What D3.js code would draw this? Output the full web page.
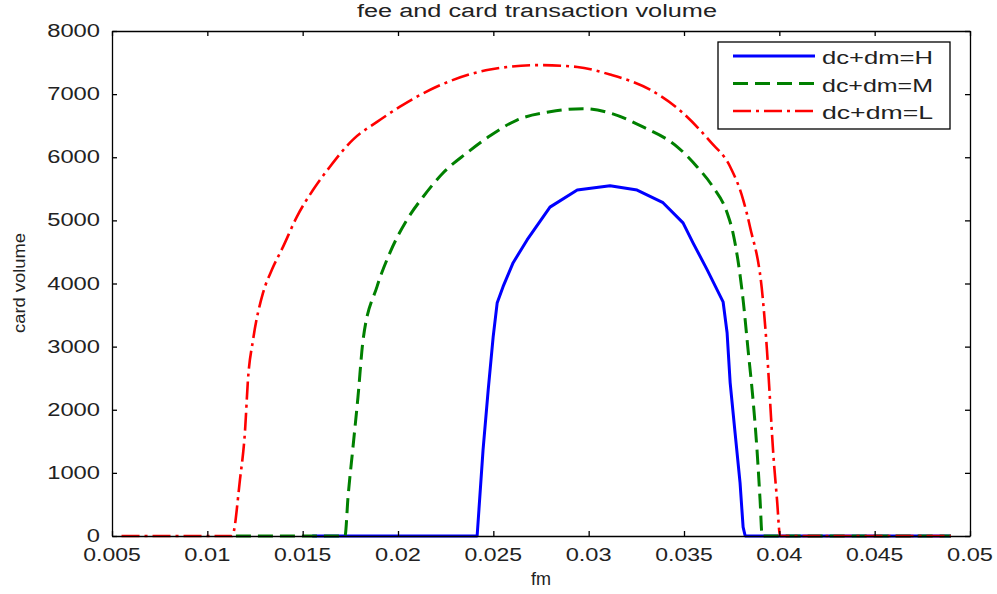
<!DOCTYPE html>
<html>
<head>
<meta charset="utf-8">
<script src="https://cdn.jsdelivr.net/npm/d3@7"></script>
<style>
  body { margin: 0; background: #fff; }
  text { font-family: "Liberation Sans", Arial, sans-serif; fill: #222; }
</style>
</head>
<body>
<script>
// axis ticks
const xTicks = [0.005, 0.01, 0.015, 0.02, 0.025, 0.03, 0.035, 0.04, 0.045, 0.05];
const yTicks = [0, 1000, 2000, 3000, 4000, 5000, 6000, 7000, 8000];

// dc+dm=H (blue, solid)
const fmH = [0.0155, 0.02415, 0.02446, 0.02473, 0.02499, 0.0252, 0.02551, 0.02604, 0.02677, 0.02797,
             0.0294, 0.03112, 0.03254, 0.0339, 0.03495, 0.03548, 0.03621, 0.03705, 0.03726, 0.03742,
             0.03768, 0.03794, 0.0381, 0.03821, 0.049];
const volH = [0, 0, 1360, 2310, 3150, 3690, 3950, 4330, 4690, 5210,
              5480, 5550, 5480, 5280, 4960, 4640, 4220, 3710, 3220, 2430,
              1630, 840, 140, 0, 0];

// dc+dm=M (green, dashed)
const fmM = [0.0115, 0.01722, 0.01738, 0.01764, 0.0179, 0.01817, 0.0189, 0.01958, 0.02047, 0.02131,
             0.02236, 0.02362, 0.02483, 0.02624, 0.02797, 0.0297, 0.03112, 0.03285, 0.03463, 0.03568,
             0.03652, 0.03726, 0.03757, 0.0381, 0.03836, 0.03862, 0.03883, 0.03899, 0.0391, 0.049];
const volM = [0, 0, 620, 1410, 2200, 3110, 3950, 4490, 5010, 5370,
              5750, 6070, 6340, 6590, 6720, 6770, 6700, 6480, 6170, 5850,
              5530, 5120, 4800, 3740, 2950, 2160, 1360, 570, 0, 0];

// dc+dm=L (red, dash-dot)
const fmL = [0.0055, 0.0113, 0.01171, 0.01198, 0.01213, 0.0124, 0.01292, 0.01339, 0.01397, 0.0147,
             0.01554, 0.01643, 0.01764, 0.0189, 0.02026, 0.02205, 0.02483, 0.02745, 0.0294, 0.03112,
             0.03322, 0.03495, 0.03637, 0.03742, 0.0381, 0.03846, 0.03914, 0.03935, 0.03951, 0.03967,
             0.03988, 0.04004, 0.049];
const volL = [0, 0, 890, 1680, 2470, 3110, 3850, 4220, 4580, 5060,
              5480, 5850, 6280, 6560, 6830, 7120, 7390, 7460, 7430, 7310,
              7070, 6700, 6250, 5850, 5330, 4900, 3740, 2950, 2160, 1360,
              570, 0, 0];

const seriesNames = ['dc+dm=H', 'dc+dm=M', 'dc+dm=L'];
const seriesColors = ['#0000ff', '#008000', '#ff0000'];
const seriesDash = ['none', '15,7', '18,5,3,5'];
const seriesX = [fmH, fmM, fmL];
const seriesY = [volH, volM, volL];

const W = 997, H = 594;
const plotL = 112, plotR = 970, plotT = 31, plotB = 536;

const svg = d3.select('body')
              .append('svg')
              .attr('width', W)
              .attr('height', H);

const xscale = d3.scaleLinear()
                .domain([0.005, 0.05])
                .range([plotL, plotR]);

const yscale = d3.scaleLinear()
                .domain([0, 8000])
                .range([plotB, plotT]);

// curves: blue keeps its kinks, the other two are smooth
const lineFor = i => d3.line()
               .curve(i === 0 ? d3.curveLinear : d3.curveMonotoneX)
               .x(d => xscale(d[0]))
               .y(d => yscale(d[1]));

seriesNames.forEach((name, i) => {
  const pts = seriesX[i].map((x, j) => [x, seriesY[i][j]]);
  svg.append('path')
    .datum(pts)
    .attr('d', lineFor(i))
    .attr('fill', 'none')
    .attr('stroke', seriesColors[i])
    .attr('stroke-width', i === 2 ? 2.6 : 3)
    .attr('stroke-linejoin', 'round')
    .attr('stroke-dasharray', seriesDash[i]);
});

// frame with inward ticks on all four sides
const tickLen = 5;
svg.append('g')
  .attr('transform', `translate(0,${plotB})`)
  .call(d3.axisBottom(xscale).tickValues(xTicks).tickSizeInner(-tickLen).tickSizeOuter(0).tickFormat(''));
svg.append('g')
  .attr('transform', `translate(0,${plotT})`)
  .call(d3.axisTop(xscale).tickValues(xTicks).tickSizeInner(-tickLen).tickSizeOuter(0).tickFormat(''));
svg.append('g')
  .attr('transform', `translate(${plotL},0)`)
  .call(d3.axisLeft(yscale).tickValues(yTicks).tickSizeInner(-tickLen).tickSizeOuter(0).tickFormat(''));
svg.append('g')
  .attr('transform', `translate(${plotR},0)`)
  .call(d3.axisRight(yscale).tickValues(yTicks).tickSizeInner(-tickLen).tickSizeOuter(0).tickFormat(''));
svg.selectAll('.domain, .tick line')
  .attr('stroke', '#000')
  .attr('stroke-width', 1.3);

// tick labels (stretched like the source image)
svg.selectAll('.xlab')
  .data(xTicks)
  .enter().append('text')
  .attr('x', d => xscale(d))
  .attr('y', 561)
  .attr('text-anchor', 'middle')
  .attr('font-size', 18)
  .attr('textLength', d => String(d).length * 11.5)
  .attr('lengthAdjust', 'spacingAndGlyphs')
  .text(d => String(d));

svg.selectAll('.ylab')
  .data(yTicks)
  .enter().append('text')
  .attr('x', 100)
  .attr('y', d => yscale(d) + 6)
  .attr('text-anchor', 'end')
  .attr('font-size', 18)
  .attr('textLength', d => String(d).length * 13.2)
  .attr('lengthAdjust', 'spacingAndGlyphs')
  .text(d => String(d));

// titles
svg.append('text')
  .attr('x', 537)
  .attr('y', 17)
  .attr('text-anchor', 'middle')
  .attr('font-size', 18)
  .attr('textLength', 360)
  .attr('lengthAdjust', 'spacingAndGlyphs')
  .text('fee and card transaction volume');

svg.append('text')
  .attr('x', 541)
  .attr('y', 585)
  .attr('text-anchor', 'middle')
  .attr('font-size', 18)
  .text('fm');

svg.append('text')
  .attr('transform', 'translate(25,283) rotate(-90)')
  .attr('text-anchor', 'middle')
  .attr('font-size', 16)
  .attr('textLength', 100)
  .attr('lengthAdjust', 'spacingAndGlyphs')
  .text('card volume');

// legend
const legend = svg.append('g');
legend.append('rect')
  .attr('x', 718)
  .attr('y', 42)
  .attr('width', 232)
  .attr('height', 87)
  .attr('fill', '#fff')
  .attr('stroke', '#000')
  .attr('stroke-width', 1.3);

seriesNames.forEach((name, i) => {
  const ly = 56 + i * 27.5;
  legend.append('line')
    .attr('x1', 733).attr('x2', 815)
    .attr('y1', ly).attr('y2', ly)
    .attr('stroke', seriesColors[i])
    .attr('stroke-width', i === 2 ? 2.6 : 3)
    .attr('stroke-dasharray', seriesDash[i]);
  legend.append('text')
    .attr('x', 822)
    .attr('y', ly + 8)
    .attr('font-size', 18)
    .attr('textLength', 111)
    .attr('lengthAdjust', 'spacingAndGlyphs')
    .text(name);
});
</script>
</body>
</html>
